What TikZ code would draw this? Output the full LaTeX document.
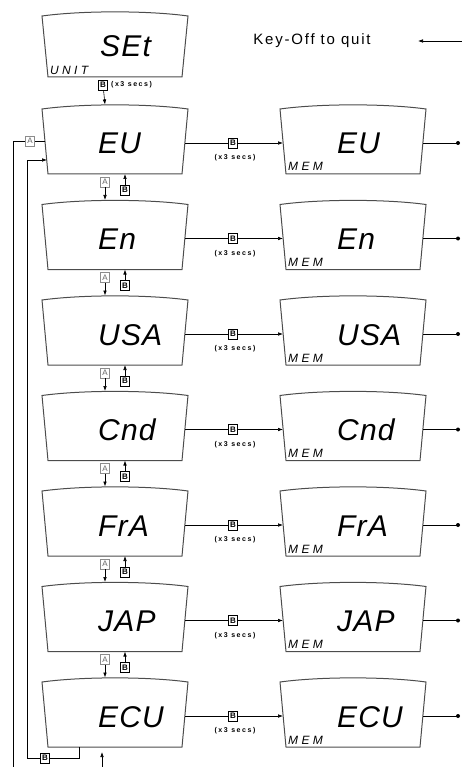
\documentclass[tikz,border=0pt]{standalone}
\usepackage{fontspec}
\setmainfont{Liberation Sans}
\usetikzlibrary{arrows.meta}
\newcommand{\lcdframe}[3]{\draw[frame] (#1,#2+6) .. controls (#1+40,#2+0.5) and (#1+106,#2+0.5) .. (#1+146,#2+6) -- (#1+140,#2+#3) -- (#1+6,#2+#3) -- cycle;}
\begin{document}
\begin{tikzpicture}[x=1pt,y=-1pt,>={Latex[length=5pt,width=3.6pt]},
  frame/.style={line width=1pt,black!70},
  wire/.style={line width=0.6pt},
  lcd/.style={font=\fontsize{30}{30}\selectfont\itshape\addfontfeatures{LetterSpace=4},anchor=base west,inner sep=0pt},
  tag/.style={font=\fontsize{12}{12}\selectfont\itshape\addfontfeatures{LetterSpace=28},anchor=base west,inner sep=0pt},
  keyb/.style={draw,line width=0.8pt,fill=white,inner sep=0pt,minimum width=9pt,minimum height=10pt,font=\fontsize{8}{8}\selectfont\bfseries},
  keya/.style={keyb,draw=black!45,text=black!60,font=\fontsize{8}{8}\selectfont},
  secs/.style={font=\fontsize{7}{7}\selectfont\bfseries\addfontfeatures{LetterSpace=22},inner sep=0pt}]
\useasboundingbox (0,0) rectangle (462,767);
\lcdframe{42}{10}{67}
\node[lcd] (set) at (100,57) {SEt};
\node[tag] (unit) at (50,75) {UNIT};
\node[keyb] (start) at (103,85) {B};
\node[secs,anchor=west] (startsecs) at (111,85) {(x3 secs)};
\node[font=\fontsize{15}{15}\selectfont\addfontfeatures{LetterSpace=12}] (quit) at (312,41) {Key-Off to quit};
\coordinate (quitend) at (462,41);
\coordinate (quittip) at (418,41);
\draw[wire,->] (quitend) -- (quittip);
\foreach \lbl [count=\k from 0] in {EU,En,USA,Cnd,FrA,JAP,ECU} {
  \pgfmathsetmacro{\rowy}{103+95.5*\k}
  \lcdframe{42}{\rowy}{71}
  \lcdframe{280}{\rowy}{71}
  \node[lcd] (main\k) at (98,\rowy+51) {\lbl};
  \node[lcd] (mem\k) at (337,\rowy+51) {\lbl};
  \node[tag] (memtag\k) at (288,\rowy+68) {MEM};
  \coordinate (top\k) at (105,\rowy+1.5);
  \coordinate (bot\k) at (125,\rowy+71);
  \coordinate (r\k) at (185,\rowy+40);
  \coordinate (ml\k) at (283,\rowy+40);
  \coordinate (mr\k) at (423,\rowy+40);
  \coordinate (dot\k) at (458,\rowy+40);
  \node[keyb] (go\k) at (233,\rowy+40) {B};
  \node[secs] (gosecs\k) at (235,\rowy+55) {(x3 secs)};
  \draw[wire] (r\k) -- (go\k);
  \draw[wire,->] (go\k) -- (ml\k);
  \draw[wire] (mr\k) -- (dot\k);
  \fill (dot\k) circle (2);
}
\draw[wire,->] (start) -- (top0);
\foreach \k in {0,...,5} {
  \pgfmathsetmacro{\rowy}{103+95.5*\k}
  \pgfmathtruncatemacro{\n}{\k+1}
  \node[keya] (up\k) at (105,\rowy+79) {A};
  \draw[wire,->] (up\k) -- (top\n);
  \node[keyb] (dn\k) at (125,\rowy+87) {B};
  \draw[wire,->] (dn\k) -- (bot\k);
}
\coordinate (eul) at (45,141);
\coordinate (outtop) at (13,141);
\coordinate (outbot) at (13,767);
\node[keya] (back) at (30,141) {A};
\draw[wire] (eul) -- (back) -- (outtop) -- (outbot);
\coordinate (intip) at (47,160);
\coordinate (incorner) at (27,160);
\coordinate (inbot) at (27,758);
\coordinate (ecuout) at (79,758);
\node[keyb] (loop) at (45,758) {B};
\draw[wire,->] (loop) -- (inbot) -- (incorner) -- (intip);
\draw[wire] (loop) -- (ecuout) -- (79,747);
\coordinate (exitbot) at (102,767);
\coordinate (exittip) at (102,752);
\draw[wire,->] (exitbot) -- (exittip);
\end{tikzpicture}
\end{document}
